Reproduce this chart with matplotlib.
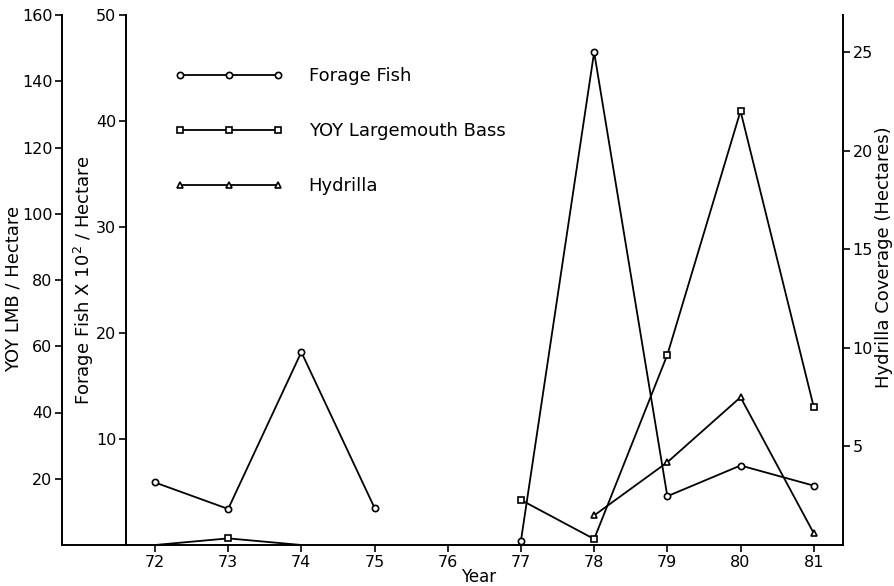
# -*- coding: utf-8 -*-
"""
Forage fish, YOY largemouth bass and hydrilla coverage by year
"""

import numpy as np
import matplotlib
matplotlib.use('Agg')
import matplotlib.pyplot as plt

# data (nan = no sample)
years = [72, 73, 74, 75, 76, 77, 78, 79, 80, 81]
forage_fish = [5.9, 3.4, 18.2, 3.5, np.nan, 0.4, 46.5, 4.6, 7.5, 5.6]      # x10^2 / hectare
yoy_lmb = [0, 2, 0, np.nan, np.nan, 13.6, 1.8, 57.4, 131, 41.7]            # per hectare
hydrilla = [np.nan, np.nan, np.nan, np.nan, np.nan, np.nan, 1.5, 4.2, 7.5, 0.6]  # hectares

lmb_ticks = [20, 40, 60, 80, 100, 120, 140, 160]
ff_ticks = [10, 20, 30, 40, 50]
hyd_ticks = [5, 10, 15, 20, 25]

plt.rcParams['font.family'] = 'DejaVu Sans'
plt.rcParams['font.size'] = 11.5
label_size = 13

fig = plt.figure(figsize=(8.95, 5.86), dpi=100)
ax = fig.add_axes([62/895, 1-545/586, (843-62)/895, (545-15)/586])
ax_ff = ax.twinx()
ax_h = ax.twinx()

lw = 1.3
spine_w = 1.4
common = dict(color='black', lw=lw, markerfacecolor='white', markeredgecolor='black',
              markeredgewidth=1.2)

ax_ff.plot(years, forage_fish, marker='o', ms=4.5, label='Forage Fish', **common)
ax.plot(years, yoy_lmb, marker='s', ms=4.2, markevery=[1, 5, 6, 7, 8, 9],
        label='YOY Largemouth Bass', **common)
ax_h.plot(years, hydrilla, marker='^', ms=5, label='Hydrilla', **common)

# outer left axis: YOY LMB
ax.set_xlim(70.73, 81.40)
ax.set_ylim(0, 160)
ax.set_yticks(lmb_ticks)
ax.set_xticks(years)
ax.set_xticklabels([str(y) for y in years])
ax.spines['top'].set_visible(False)
ax.spines['right'].set_visible(False)
ax.spines['left'].set_linewidth(spine_w)
ax.spines['bottom'].set_linewidth(spine_w)
ax.tick_params(direction='out', length=5, width=1.2, pad=2)
ax.set_ylabel('YOY LMB / Hectare', fontsize=label_size)
ax.yaxis.set_label_coords(-0.051, 0.483)
ax.set_xlabel('Year', fontsize=12)
ax.xaxis.set_label_coords(0.533, -0.043)

# inner left axis: forage fish
ax_ff.set_ylim(0, 50)
ax_ff.set_yticks(ff_ticks)
ax_ff.spines['left'].set_visible(True)
ax_ff.spines['left'].set_position(('axes', 0.082))
ax_ff.spines['left'].set_linewidth(spine_w)
ax_ff.spines['right'].set_visible(False)
ax_ff.spines['top'].set_visible(False)
ax_ff.spines['bottom'].set_visible(False)
ax_ff.yaxis.set_ticks_position('left')
ax_ff.yaxis.set_label_position('left')
ax_ff.tick_params(direction='out', length=5, width=1.2, pad=2)
ax_ff.set_ylabel('Forage Fish X 10$^2$ / Hectare', fontsize=label_size)
ax_ff.yaxis.set_label_coords(0.043, 0.5)

# right axis: hydrilla
ax_h.set_ylim(0, 26.9)
ax_h.set_yticks(hyd_ticks)
ax_h.spines['right'].set_linewidth(spine_w)
ax_h.spines['left'].set_visible(False)
ax_h.spines['top'].set_visible(False)
ax_h.spines['bottom'].set_visible(False)
ax_h.tick_params(direction='out', length=5, width=1.2, pad=2)
ax_h.set_ylabel('Hydrilla Coverage (Hectares)', rotation=90, fontsize=label_size)
ax_h.yaxis.set_label_coords(1.041, 0.543)

handles = []
labels = []
for a in (ax_ff, ax, ax_h):
    h, l = a.get_legend_handles_labels()
    handles += h
    labels += l
leg = fig.legend(handles, labels, loc='upper left', numpoints=3, frameon=False,
                 fontsize=label_size, handlelength=6.0, handletextpad=1.4,
                 labelspacing=2.05, borderpad=0, borderaxespad=0,
                 bbox_to_anchor=(175/895, 1-67/586), bbox_transform=fig.transFigure)
for h in leg.legend_handles:
    h.set_markevery(None)

fig.savefig('out.png', dpi=100)
